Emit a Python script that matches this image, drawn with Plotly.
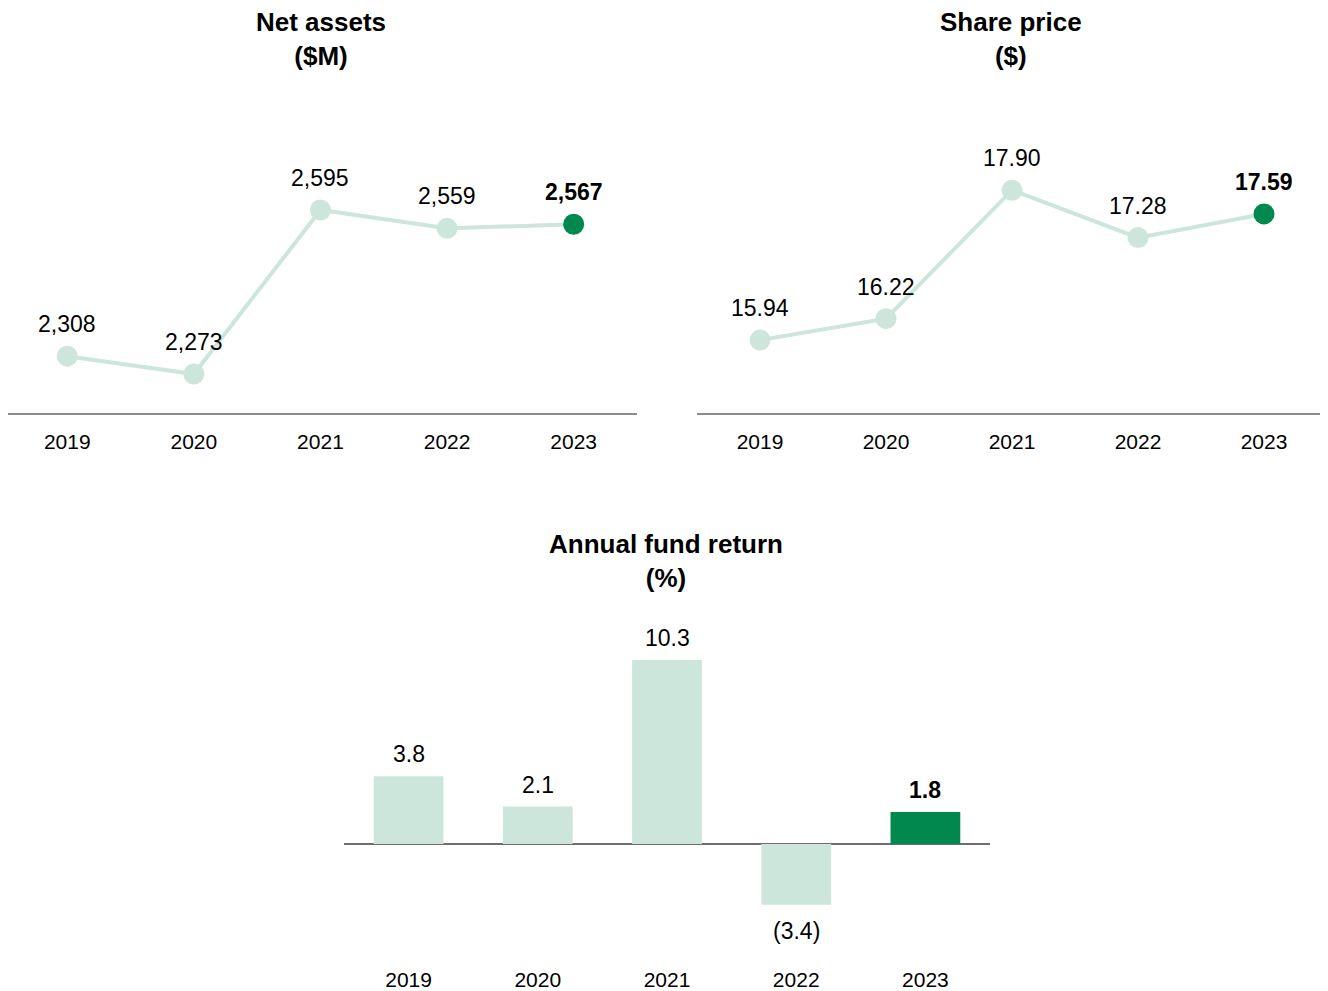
import plotly.graph_objects as go

years = ["2019", "2020", "2021", "2022", "2023"]
net_assets = [2308, 2273, 2595, 2559, 2567]
share_price = [15.94, 16.22, 17.90, 17.28, 17.59]
fund_return = [3.8, 2.1, 10.3, -3.4, 1.8]

LIGHT = "#CCE6DB"
DARK = "#00884E"
FONT = "Liberation Sans, Arial, sans-serif"
W, H = 1328, 991
OFF = 8  # page body margin


def px_x(p):
    return max(0.0, (p - OFF) / W)


def px_y(p):
    return (H - (p - OFF)) / H


def colors(n):
    return [LIGHT] * (n - 1) + [DARK]


def bold_last(labels):
    return [t if i < len(labels) - 1 else "<b>" + t + "</b>" for i, t in enumerate(labels)]


na_text = bold_last([f"{v:,.0f}" for v in net_assets])
sp_text = bold_last([f"{v:.2f}" for v in share_price])
fr_text = bold_last([f"{v:.1f}" if v >= 0 else f"({abs(v):.1f})" for v in fund_return])

label_font = dict(size=23, color="black", family=FONT)

fig = go.Figure()

fig.add_trace(go.Scatter(
    x=years, y=net_assets, mode="lines+markers",
    line=dict(color=LIGHT, width=4), marker=dict(size=21, color=colors(5)),
    cliponaxis=False, xaxis="x", yaxis="y", hoverinfo="skip"))

fig.add_trace(go.Scatter(
    x=years, y=share_price, mode="lines+markers",
    line=dict(color=LIGHT, width=4), marker=dict(size=21, color=colors(5)),
    cliponaxis=False, xaxis="x2", yaxis="y2", hoverinfo="skip"))

fig.add_trace(go.Bar(
    x=years, y=fund_return,
    marker=dict(color=colors(5), line=dict(width=0)), width=0.54,
    cliponaxis=False, xaxis="x3", yaxis="y3", hoverinfo="skip"))

annotations = []
# category axes: annotation x given as category index
for i, (y, t) in enumerate(zip(net_assets, na_text)):
    annotations.append(dict(x=i, y=y, xref="x", yref="y", text=t, showarrow=False,
                            xanchor="center", yanchor="middle", yshift=32, font=label_font))
for i, (y, t) in enumerate(zip(share_price, sp_text)):
    annotations.append(dict(x=i, y=y, xref="x2", yref="y2", text=t, showarrow=False,
                            xanchor="center", yanchor="middle", yshift=32, font=label_font))
for i, (y, t) in enumerate(zip(fund_return, fr_text)):
    annotations.append(dict(x=i, y=y, xref="x3", yref="y3", text=t, showarrow=False,
                            xanchor="center", yanchor="middle",
                            yshift=22 if y >= 0 else -26, font=label_font))

title_font = dict(size=26, color="black", family=FONT)
for text, cx, cy in [("<b>Net assets<br>($M)</b>", 321, 39),
                     ("<b>Share price<br>($)</b>", 1011, 39),
                     ("<b>Annual fund return<br>(%)</b>", 666, 561)]:
    annotations.append(dict(text=text, x=px_x(cx), y=px_y(cy), xref="paper", yref="paper",
                            xanchor="center", yanchor="middle", showarrow=False,
                            font=title_font))

top_dom = [px_y(413), px_y(100)]
bot_dom = [px_y(960), px_y(620)]

xcommon = dict(type="category", showgrid=False, ticks="",
               tickfont=dict(size=21, color="black", family=FONT), zeroline=False)

fig.update_layout(
    width=W, height=H, margin=dict(l=0, r=0, t=0, b=0),
    paper_bgcolor="white", plot_bgcolor="white", showlegend=False,
    font=dict(family=FONT, color="black"),
    xaxis=dict(domain=[px_x(7), px_x(637)], range=[-0.468, 4.5], anchor="y", showline=True,
               linecolor="#8c8c8c", linewidth=2, ticklabelstandoff=9, **xcommon),
    yaxis=dict(domain=top_dom, range=[2196.4, 2811], visible=False, anchor="x"),
    xaxis2=dict(domain=[px_x(697), px_x(1327)], range=[-0.5, 4.5], anchor="y2", showline=True,
                linecolor="#8c8c8c", linewidth=2, ticklabelstandoff=9, **xcommon),
    yaxis2=dict(domain=top_dom, range=[14.986, 19.08], visible=False, anchor="x2"),
    xaxis3=dict(domain=[px_x(344), px_x(990)], range=[-0.5, 4.5], anchor="y3", showline=False,
                ticklabelstandoff=5, **xcommon),
    yaxis3=dict(domain=bot_dom, range=[-6.49, 12.54], showgrid=False, showticklabels=False,
                ticks="", zeroline=True, zerolinecolor="#6e6e6e", zerolinewidth=2,
                anchor="x3"),
    annotations=annotations,
)

fig.write_html("out.html")
